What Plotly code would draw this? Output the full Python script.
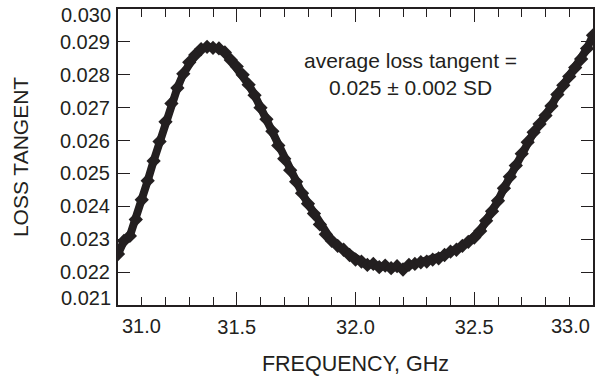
import plotly.graph_objects as go

freq_ghz = [
    31.000, 31.025, 31.050, 31.075, 31.100, 31.125, 31.150, 31.175, 31.200, 31.225,
    31.250, 31.275, 31.300, 31.325, 31.350, 31.375, 31.400, 31.425, 31.450, 31.475,
    31.500, 31.525, 31.550, 31.575, 31.600, 31.625, 31.650, 31.675, 31.700, 31.725,
    31.750, 31.775, 31.800, 31.825, 31.850, 31.875, 31.900, 31.925, 31.950, 31.975,
    32.000, 32.025, 32.050, 32.075, 32.100, 32.125, 32.150, 32.175, 32.200, 32.225,
    32.250, 32.275, 32.300, 32.325, 32.350, 32.375, 32.400, 32.425, 32.450, 32.475,
    32.500, 32.525, 32.550, 32.575, 32.600, 32.625, 32.650, 32.675, 32.700, 32.725,
    32.750, 32.775, 32.800, 32.825, 32.850, 32.875, 32.900, 32.925, 32.950, 32.975,
    33.000,
]

loss_tangent = [
    0.02255, 0.02295, 0.02310, 0.02360, 0.02420, 0.02478, 0.02538, 0.02597, 0.02657, 0.02713,
    0.02760, 0.02803, 0.02838, 0.02860, 0.02878, 0.02885, 0.02882, 0.02880, 0.02868, 0.02845,
    0.02825, 0.02800, 0.02770, 0.02738, 0.02700, 0.02665, 0.02628, 0.02585, 0.02545, 0.02510,
    0.02475, 0.02440, 0.02408, 0.02378, 0.02345, 0.02315, 0.02295, 0.02280, 0.02268, 0.02252,
    0.02238, 0.02232, 0.02222, 0.02225, 0.02215, 0.02220, 0.02212, 0.02218, 0.02208, 0.02222,
    0.02225, 0.02230, 0.02232, 0.02238, 0.02242, 0.02252, 0.02262, 0.02268, 0.02280, 0.02292,
    0.02305, 0.02325, 0.02356, 0.02385, 0.02417, 0.02455, 0.02490, 0.02524, 0.02560, 0.02595,
    0.02625, 0.02650, 0.02676, 0.02705, 0.02740, 0.02768, 0.02795, 0.02822, 0.02848, 0.02880,
    0.02920,
]

x_tick_vals = [31.5, 32.0, 32.5]
x_tick_text = ["31.5", "32.0", "32.5"]
x_edge_labels = ["31.0", "33.0"]
y_tick_vals = [0.022, 0.023, 0.024, 0.025, 0.026, 0.027, 0.028, 0.029]
y_tick_text = ["0.022", "0.023", "0.024", "0.025", "0.026", "0.027", "0.028", "0.029"]
y_edge_labels = ["0.021", "0.030"]

INK = "#231f20"
FONT = "Liberation Sans, Arial, Helvetica, sans-serif"

fig = go.Figure()
fig.add_trace(go.Scatter(
    x=freq_ghz, y=loss_tangent, mode="lines+markers",
    line=dict(color=INK, width=8),
    marker=dict(symbol="diamond", size=11, color=INK),
    showlegend=False, hoverinfo="skip",
))

fig.update_layout(
    width=605, height=381,
    margin=dict(l=118, r=12, t=9, b=76),
    paper_bgcolor="white", plot_bgcolor="white",
    font=dict(family=FONT, size=20, color=INK),
    xaxis=dict(
        range=[31.0, 33.0], showgrid=False, zeroline=False, automargin=False,
        showline=True, linecolor=INK, linewidth=2, mirror="allticks",
        ticks="inside", ticklen=13, tickwidth=1.3, tickcolor=INK,
        tickvals=x_tick_vals, ticktext=x_tick_text, ticklabelstandoff=3,
        minor=dict(dtick=0.1, tick0=31.0, ticks="inside", ticklen=8, tickwidth=1.3, tickcolor=INK, showgrid=False),
        title=dict(text="FREQUENCY, GHz", standoff=19, font=dict(size=21.5)),
        tickfont=dict(size=20),
    ),
    yaxis=dict(
        range=[0.021, 0.030], showgrid=False, zeroline=False, automargin=False,
        showline=True, linecolor=INK, linewidth=2, mirror="allticks",
        ticks="inside", ticklen=12, tickwidth=1.3, tickcolor=INK,
        tickvals=y_tick_vals, ticktext=y_tick_text, ticklabelstandoff=2,
        title=dict(text="LOSS TANGENT", standoff=26, font=dict(size=21)),
        tickfont=dict(size=20),
    ),
)

for xv, txt, shift in [(31.0, x_edge_labels[0], 23), (33.0, x_edge_labels[1], -23)]:
    fig.add_annotation(x=xv, y=0, xref="x", yref="paper", text=txt, showarrow=False,
                       xanchor="center", yanchor="top", xshift=shift, yshift=-8,
                       font=dict(size=20, color=INK, family=FONT))

for yv, txt, shift in [(0.021, y_edge_labels[0], 7), (0.030, y_edge_labels[1], -6)]:
    fig.add_annotation(x=0, y=yv, xref="paper", yref="y", text=txt, showarrow=False,
                       xanchor="right", yanchor="middle", xshift=-5, yshift=shift,
                       font=dict(size=20, color=INK, family=FONT))

fig.add_annotation(x=32.23, y=0.02801, xref="x", yref="y",
                   text="average loss tangent =<br>0.025 \u00b1 0.002 SD",
                   showarrow=False, align="center", xanchor="center", yanchor="middle",
                   font=dict(size=21, color=INK, family=FONT))

fig.write_html("out.html")
